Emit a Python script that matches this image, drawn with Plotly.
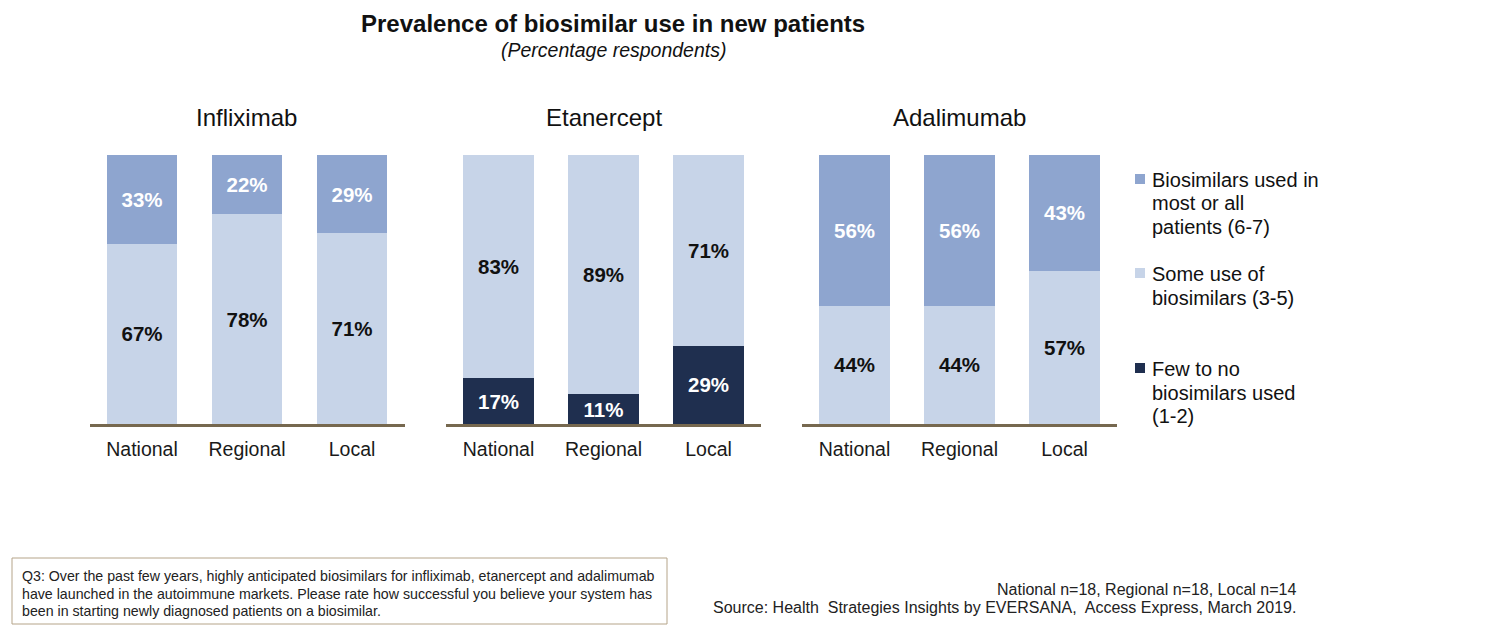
import plotly.graph_objects as go

W, H = 1500, 629

categories = ["National", "Regional", "Local"]
drugs = ["Infliximab", "Etanercept", "Adalimumab"]

# values per drug: [National, Regional, Local]
most_all = {"Infliximab": [33, 22, 29], "Etanercept": [0, 0, 0], "Adalimumab": [56, 56, 43]}
some_use = {"Infliximab": [67, 78, 71], "Etanercept": [83, 89, 71], "Adalimumab": [44, 44, 57]}
few_none = {"Infliximab": [0, 0, 0], "Etanercept": [17, 11, 29], "Adalimumab": [0, 0, 0]}

series_lines = [["Biosimilars used in", "most or all", "patients (6-7)"],
                ["Some use of", "biosimilars (3-5)"],
                ["Few to no", "biosimilars used", "(1-2)"]]

footnote_lines = ["Q3: Over the past few years, highly anticipated biosimilars for infliximab, etanercept and adalimumab",
                  "have launched in the autoimmune markets. Please rate how successful you believe your system has",
                  "been in starting newly diagnosed patients on a biosimilar."]
source_lines = ["National n=18, Regional n=18, Local n=14",
                "Source: Health&nbsp; Strategies Insights by EVERSANA,&nbsp; Access Express, March 2019."]

C_TOP = "#8EA5CF"
C_MID = "#C7D4E8"
C_DARK = "#1F2F4F"
C_BASE = "#76684F"
FONT = "Liberation Sans, Arial, sans-serif"


def px(x):
    return x / W


def py(y):
    return 1 - y / H


# axis domains in pixels
x_domains = [(89.5, 404.5), (446, 761), (802, 1117)]
y_dom = (py(424), py(155))

fig = go.Figure()

for i, d in enumerate(drugs):
    xa = "x" if i == 0 else f"x{i+1}"
    ya = "y" if i == 0 else f"y{i+1}"
    for vals, col, tcol in [(few_none[d], C_DARK, "white"),
                            (some_use[d], C_MID, "#111111"),
                            (most_all[d], C_TOP, "white")]:
        fig.add_trace(go.Bar(
            x=categories, y=vals, xaxis=xa, yaxis=ya,
            marker=dict(color=col, line=dict(width=0)),
            text=[f"{v}%" if v > 0 else "" for v in vals],
            textposition="inside", insidetextanchor="middle",
            textangle=0, constraintext="none",
            textfont=dict(family=FONT, size=20.5, color=tcol, weight="bold"),
            showlegend=False, hoverinfo="skip",
        ))

layout = dict(
    width=W, height=H, barmode="stack", bargap=0.333,
    margin=dict(l=0, r=0, t=0, b=0),
    paper_bgcolor="white", plot_bgcolor="white",
    font=dict(family=FONT, color="#111111"),
    showlegend=False,
)
for i in range(3):
    xk = "xaxis" if i == 0 else f"xaxis{i+1}"
    yk = "yaxis" if i == 0 else f"yaxis{i+1}"
    layout[xk] = dict(domain=[px(x_domains[i][0]), px(x_domains[i][1])],
                      anchor="y" if i == 0 else f"y{i+1}",
                      range=[-0.5, 2.5], showline=True, linecolor=C_BASE, linewidth=3,
                      showgrid=False, zeroline=False, ticks="",
                      tickfont=dict(family=FONT, size=19.5, color="#1a1a1a"),
                      ticklabelstandoff=6)
    layout[yk] = dict(domain=list(y_dom), range=[0, 100], visible=False,
                      anchor="x" if i == 0 else f"x{i+1}")
fig.update_layout(**layout)

ann = []
ann.append(dict(text="<b>Prevalence of biosimilar use in new patients</b>", x=px(613), y=py(24),
                font=dict(size=24, family=FONT, color="#111111")))
ann.append(dict(text="<i>(Percentage respondents)</i>", x=px(613), y=py(50),
                font=dict(size=19.5, family=FONT, color="#111111")))
for i, d in enumerate(drugs):
    cx = (x_domains[i][0] + x_domains[i][1]) / 2
    ann.append(dict(text=d, x=px(cx), y=py(118), font=dict(size=24, family=FONT, color="#111111")))

# legend
leg_y = [180, 274, 369]
leg_cols = [C_TOP, C_MID, C_DARK]
shapes = []
for ly, col, lines in zip(leg_y, leg_cols, series_lines):
    for k, line in enumerate(lines):
        ann.append(dict(text=line, x=px(1150), y=py(ly + k * 23.5), xanchor="left",
                        font=dict(size=20, family=FONT, color="#111111")))
    shapes.append(dict(type="rect", xref="paper", yref="paper", x0=px(1135), x1=px(1145),
                       y0=py(ly - 6), y1=py(ly + 4), fillcolor=col, line=dict(width=0)))

# footnote box
shapes.append(dict(type="rect", xref="paper", yref="paper", x0=px(12), x1=px(667), y0=py(558), y1=py(624),
                   line=dict(color="#B5A489", width=1), fillcolor="rgba(0,0,0,0)"))
for k, line in enumerate(footnote_lines):
    ann.append(dict(text=line, x=px(20), y=py(576 + k * 17.5), xanchor="left",
                    font=dict(size=14.2, family=FONT, color="#222222")))
for k, line in enumerate(source_lines):
    ann.append(dict(text=line, x=px(1298), y=py(589 + k * 18), xanchor="right",
                    font=dict(size=16, family=FONT, color="#222222")))

for a in ann:
    a.setdefault("xref", "paper")
    a.setdefault("yref", "paper")
    a.setdefault("showarrow", False)
    a.setdefault("xanchor", "center")
    a.setdefault("yanchor", "middle")
fig.update_layout(annotations=ann, shapes=shapes)

fig.write_html("out.html")
